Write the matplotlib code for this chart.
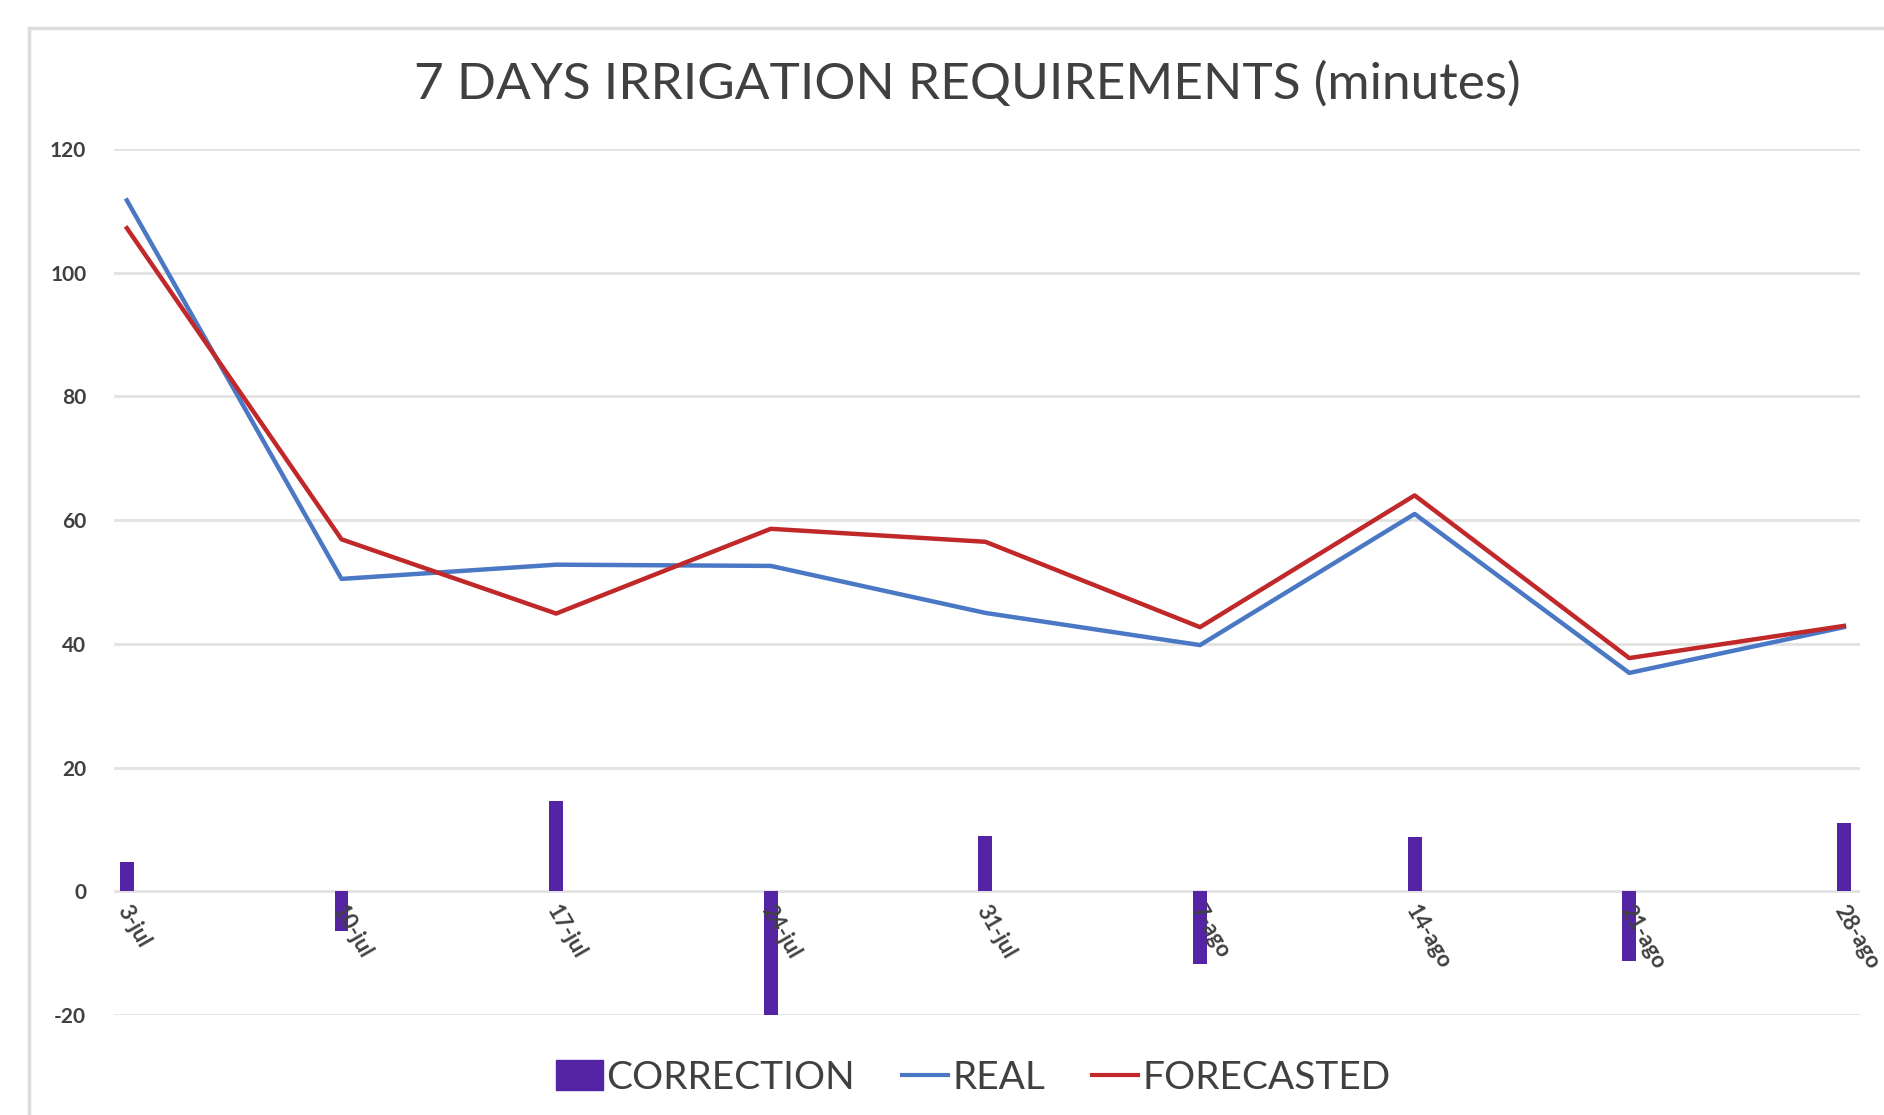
import numpy as np
import matplotlib.pyplot as plt
from matplotlib.patches import Rectangle
from matplotlib.lines import Line2D
from matplotlib.patches import Patch

dates = ['3-jul', '10-jul', '17-jul', '24-jul', '31-jul', '7-ago', '14-ago', '21-ago', '28-ago']
real = [111.7, 50.5, 52.8, 52.6, 45.0, 39.8, 61.0, 35.3, 42.7]
forecasted = [107.2, 56.9, 44.9, 58.6, 56.5, 42.7, 64.0, 37.7, 42.9]
correction = [4.7, -6.4, 14.6, -20.0, 8.9, -11.7, 8.7, -11.3, 11.1]

plt.rcParams['font.family'] = ['Lato', 'DejaVu Sans']
plt.rcParams['axes.unicode_minus'] = False

fig = plt.figure(figsize=(18.84, 11.15), dpi=100)
fig.patch.set_facecolor('white')

# chart frame like a pasted spreadsheet chart
fig.patches.append(Rectangle((29 / 1884, -0.05), 1.1, 1 - 28 / 1115 + 0.05,
                             transform=fig.transFigure, fill=False,
                             edgecolor='#dcdcdc', linewidth=2.5))

ax = fig.add_axes([114 / 1884, 1 - 1015 / 1115, (1860 - 114) / 1884, (1015 - 149) / 1115])
x = np.arange(len(dates))

ax.bar(x, correction, width=0.065, color='#5424a4', zorder=3)
ax.plot(x, real, color='#4a78c4', linewidth=3.2, zorder=4)
ax.plot(x, forecasted, color='#c0282a', linewidth=3.2, zorder=5)

ax.set_xlim(-0.06, len(dates) - 1 + 0.075)
ax.set_ylim(-20, 120)
ax.set_yticks(np.arange(-20, 121, 20))
ax.yaxis.grid(True, color='#e2e2e2', linewidth=2)
ax.set_axisbelow(True)
for s in ax.spines.values():
    s.set_visible(False)
ax.tick_params(axis='y', length=0, pad=20, labelsize=15, labelcolor='#404040')
for lab in ax.get_yticklabels():
    lab.set_fontweight('bold')
ax.set_xticks([])

# category labels sit on the zero line
for i, d in enumerate(dates):
    ax.text(i - 0.02, -2.5, d, rotation=-60, rotation_mode='anchor', ha='left', va='center',
            fontsize=16, fontweight='bold', color='#404040', zorder=6)

fig.text(805 / 1568, 1 - 70 / 928, '7 DAYS IRRIGATION REQUIREMENTS (minutes)',
         ha='center', va='center', fontsize=37, color='#404040')

handles = [Patch(color='#5424a4'),
           Line2D([], [], color='#4a78c4', linewidth=3),
           Line2D([], [], color='#c0282a', linewidth=3)]
fig.legend(handles, ['CORRECTION', 'REAL', 'FORECASTED'], loc='center',
           bbox_to_anchor=(810 / 1568, 1 - 897 / 928), ncol=3, frameon=False,
           fontsize=28, labelcolor='#404040', handlelength=1.2, handleheight=0.8,
           handletextpad=0.1, columnspacing=1.2)

fig.savefig('out.png', dpi=100, facecolor='white')
